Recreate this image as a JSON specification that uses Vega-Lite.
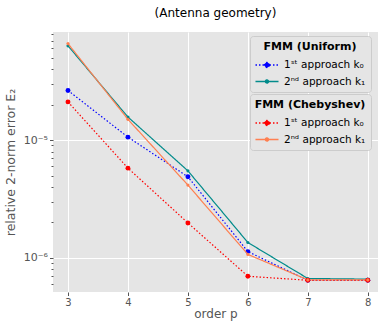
{
  "$schema": "https://vega.github.io/schema/vega-lite/v6.json",
  "width": 325,
  "height": 260,
  "autosize": {"type": "none"},
  "padding": {"left": 53, "top": 32, "right": 0, "bottom": 29},
  "background": "white",
  "title": {"text": "(Antenna geometry)", "fontSize": 12, "font": "DejaVu Sans", "fontWeight": "normal", "color": "black", "offset": 12, "anchor": "middle"},
  "config": {
    "view": {"fill": "#E5E5E5", "stroke": null},
    "font": "DejaVu Sans",
    "axis": {"domain": false, "tickColor": "#555555", "labelColor": "#555555", "titleColor": "#555555", "labelFontSize": 10, "titleFontSize": 12, "titleFontWeight": "normal", "gridColor": "white", "gridWidth": 1, "labelFont": "DejaVu Sans", "titleFont": "DejaVu Sans"},
    "legend": {
      "orient": "none",
      "fillColor": "#E5E5E5",
      "strokeColor": "#CCCCCC",
      "cornerRadius": 3,
      "padding": 5,
      "titleFontSize": 11,
      "titleFontWeight": "bold",
      "titleColor": "black",
      "titleFont": "DejaVu Sans",
      "titleAnchor": "middle",
      "titleAlign": "center",
      "titlePadding": 4,
      "labelFontSize": 10.5,
      "labelColor": "black",
      "labelFont": "DejaVu Sans",
      "symbolSize": 256,
      "symbolStrokeWidth": 1.3,
      "symbolOffset": 3,
      "labelOffset": 8,
      "rowPadding": 1.5
    }
  },
  "data": {"values": [
    {"p": 3, "err": 2.64e-5, "grid": "Uniform", "approach": "1", "label": "1ˢᵗ approach k₀"},
    {"p": 4, "err": 1.06e-5, "grid": "Uniform", "approach": "1", "label": "1ˢᵗ approach k₀"},
    {"p": 5, "err": 4.88e-6, "grid": "Uniform", "approach": "1", "label": "1ˢᵗ approach k₀"},
    {"p": 6, "err": 1.13e-6, "grid": "Uniform", "approach": "1", "label": "1ˢᵗ approach k₀"},
    {"p": 7, "err": 6.45e-7, "grid": "Uniform", "approach": "1", "label": "1ˢᵗ approach k₀"},
    {"p": 8, "err": 6.45e-7, "grid": "Uniform", "approach": "1", "label": "1ˢᵗ approach k₀"},
    {"p": 3, "err": 6.32e-5, "grid": "Uniform", "approach": "2", "label": "2ⁿᵈ approach k₁"},
    {"p": 4, "err": 1.57e-5, "grid": "Uniform", "approach": "2", "label": "2ⁿᵈ approach k₁"},
    {"p": 5, "err": 5.48e-6, "grid": "Uniform", "approach": "2", "label": "2ⁿᵈ approach k₁"},
    {"p": 6, "err": 1.35e-6, "grid": "Uniform", "approach": "2", "label": "2ⁿᵈ approach k₁"},
    {"p": 7, "err": 6.68e-7, "grid": "Uniform", "approach": "2", "label": "2ⁿᵈ approach k₁"},
    {"p": 8, "err": 6.6e-7, "grid": "Uniform", "approach": "2", "label": "2ⁿᵈ approach k₁"},
    {"p": 3, "err": 2.11e-5, "grid": "Chebyshev", "approach": "1", "label": "1ˢᵗ approach k₀\u200b"},
    {"p": 4, "err": 5.78e-6, "grid": "Chebyshev", "approach": "1", "label": "1ˢᵗ approach k₀\u200b"},
    {"p": 5, "err": 1.98e-6, "grid": "Chebyshev", "approach": "1", "label": "1ˢᵗ approach k₀\u200b"},
    {"p": 6, "err": 6.98e-7, "grid": "Chebyshev", "approach": "1", "label": "1ˢᵗ approach k₀\u200b"},
    {"p": 7, "err": 6.45e-7, "grid": "Chebyshev", "approach": "1", "label": "1ˢᵗ approach k₀\u200b"},
    {"p": 8, "err": 6.45e-7, "grid": "Chebyshev", "approach": "1", "label": "1ˢᵗ approach k₀\u200b"},
    {"p": 3, "err": 6.6e-5, "grid": "Chebyshev", "approach": "2", "label": "2ⁿᵈ approach k₁\u200b"},
    {"p": 4, "err": 1.5e-5, "grid": "Chebyshev", "approach": "2", "label": "2ⁿᵈ approach k₁\u200b"},
    {"p": 5, "err": 4.15e-6, "grid": "Chebyshev", "approach": "2", "label": "2ⁿᵈ approach k₁\u200b"},
    {"p": 6, "err": 1.07e-6, "grid": "Chebyshev", "approach": "2", "label": "2ⁿᵈ approach k₁\u200b"},
    {"p": 7, "err": 6.5e-7, "grid": "Chebyshev", "approach": "2", "label": "2ⁿᵈ approach k₁\u200b"},
    {"p": 8, "err": 6.5e-7, "grid": "Chebyshev", "approach": "2", "label": "2ⁿᵈ approach k₁\u200b"}
  ]},
  "encoding": {
    "x": {"field": "p", "type": "quantitative", "scale": {"domain": [2.75, 8.17], "nice": false, "zero": false},
      "axis": {"values": [3, 4, 5, 6, 7, 8], "title": "order p", "tickSize": 3.5, "labelPadding": 2, "titlePadding": 1, "grid": true, "labelFlush": false}},
    "y": {"field": "err", "type": "quantitative", "scale": {"type": "log", "domain": [5.13e-7, 8.28e-5], "nice": false},
      "axis": {
        "values": [6e-7, 7e-7, 8e-7, 9e-7, 1e-6, 2e-6, 3e-6, 4e-6, 5e-6, 6e-6, 7e-6, 8e-6, 9e-6, 1e-5, 2e-5, 3e-5, 4e-5, 5e-5, 6e-5, 7e-5, 8e-5],
        "title": "relative 2-norm error E₂",
        "titleFontSize": 12.5,
        "labelFontSize": 11,
        "labelExpr": "datum.value == 1e-5 ? '10⁻⁵' : datum.value == 1e-6 ? '10⁻⁶' : ''",
        "grid": true,
        "gridOpacity": {"condition": {"test": "datum.value == 1e-5 || datum.value == 1e-6", "value": 1}, "value": 0},
        "tickSize": {"condition": {"test": "datum.value == 1e-5 || datum.value == 1e-6", "value": 3.5}, "value": 2},
        "labelPadding": 2,
        "titlePadding": 6
      }}
  },
  "layer": [
    {
      "transform": [{"filter": "datum.grid == 'Uniform'"}],
      "mark": {"type": "line", "strokeWidth": 1.2},
      "encoding": {
        "stroke": {"field": "label", "type": "nominal",
          "scale": {"domain": ["1ˢᵗ approach k₀", "2ⁿᵈ approach k₁"], "range": ["#0000FF", "#008B8B"]},
          "legend": {"title": "FMM (Uniform)", "orient": "none", "legendX": 197, "legendY": 4,
            "encode": {"symbols": {"update": {
              "shape": {"signal": "datum.index == 0 ? 'M-1.44,0H1.44M0.31,0A0.31,0.31,0,1,1,-0.31,0A0.31,0.31,0,1,1,0.31,0Z' : 'M-1.44,0H1.44M0.2,0A0.2,0.2,0,1,1,-0.2,0A0.2,0.2,0,1,1,0.2,0Z'"},
              "strokeDash": {"signal": "datum.index == 0 ? [1.5, 2] : [1, 0]"},
              "stroke": {"signal": "datum.index == 0 ? '#0000FF' : '#008B8B'"},
              "fill": {"signal": "datum.index == 0 ? '#0000FF' : '#008B8B'"}
            }}}}},
        "strokeDash": {"field": "approach", "type": "nominal", "scale": {"domain": ["1", "2"], "range": [[1.5, 2], [1, 0]]}, "legend": null}
      }
    },
    {
      "transform": [{"filter": "datum.grid == 'Uniform'"}],
      "mark": {"type": "circle", "opacity": 1},
      "encoding": {
        "fill": {"field": "label", "type": "nominal",
          "scale": {"domain": ["1ˢᵗ approach k₀", "2ⁿᵈ approach k₁"], "range": ["#0000FF", "#008B8B"]}, "legend": null},
        "size": {"field": "approach", "type": "ordinal", "scale": {"domain": ["1", "2"], "range": [24, 10]}, "legend": null}
      }
    },
    {
      "transform": [{"filter": "datum.grid == 'Chebyshev'"}],
      "mark": {"type": "line", "strokeWidth": 1.2},
      "encoding": {
        "color": {"field": "label", "type": "nominal",
          "scale": {"domain": ["1ˢᵗ approach k₀\u200b", "2ⁿᵈ approach k₁\u200b"], "range": ["#FF0000", "#FF7F50"]},
          "legend": {"title": "FMM (Chebyshev)", "orient": "none", "legendX": 197, "legendY": 62,
            "encode": {"symbols": {"update": {
              "shape": {"signal": "datum.index == 0 ? 'M-1.44,0H1.44M0.31,0A0.31,0.31,0,1,1,-0.31,0A0.31,0.31,0,1,1,0.31,0Z' : 'M-1.44,0H1.44M0.2,0A0.2,0.2,0,1,1,-0.2,0A0.2,0.2,0,1,1,0.2,0Z'"},
              "strokeDash": {"signal": "datum.index == 0 ? [1.5, 2] : [1, 0]"},
              "stroke": {"signal": "datum.index == 0 ? '#FF0000' : '#FF7F50'"},
              "fill": {"signal": "datum.index == 0 ? '#FF0000' : '#FF7F50'"}
            }}}}},
        "strokeDash": {"field": "approach", "type": "nominal", "scale": {"domain": ["1", "2"], "range": [[1.5, 2], [1, 0]]}, "legend": null}
      }
    },
    {
      "transform": [{"filter": "datum.grid == 'Chebyshev'"}],
      "mark": {"type": "circle", "opacity": 1},
      "encoding": {
        "color": {"field": "label", "type": "nominal"},
        "size": {"field": "approach", "type": "ordinal", "scale": {"domain": ["1", "2"], "range": [24, 10]}, "legend": null}
      }
    }
  ]
}
